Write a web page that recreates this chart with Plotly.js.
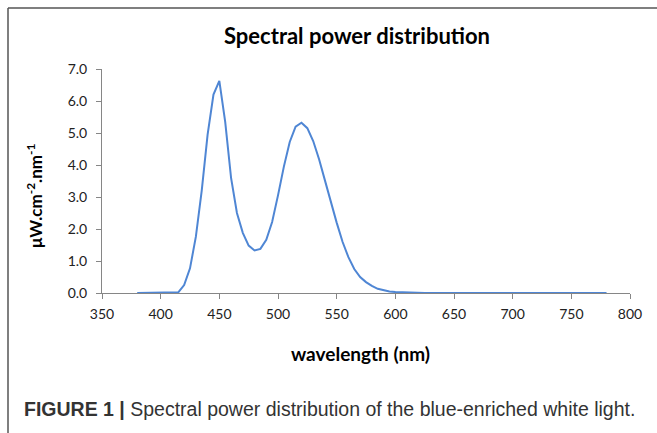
<!DOCTYPE html>
<html>
<head>
<meta charset="utf-8">
<script src="https://cdn.plot.ly/plotly-3.0.1.min.js"></script>
<style>html,body{margin:0;padding:0;background:#fff;}</style>
</head>
<body>
<div id="chart" style="width:657px;height:433px;"></div>
<script>
// Wavelengths (nm), 5 nm steps
const wavelength = [];
for (let w = 380; w <= 780; w += 5) wavelength.push(w);

// Spectral power (µW.cm-2.nm-1)
const powerHead = [
  0, 0, 0, 0, 0, 0, 0,          // 380-410
  0.02, 0.25, 0.77, 1.76, 3.2,  // 415-435
  4.95, 6.2, 6.63, 5.35, 3.6,   // 440-460
  2.5, 1.88, 1.48, 1.33, 1.38,  // 465-485
  1.66, 2.22, 3.05, 3.95, 4.72, // 490-510
  5.2, 5.32, 5.15, 4.75, 4.18,  // 515-535
  3.52, 2.85, 2.2, 1.6, 1.12,   // 540-560
  0.75, 0.5, 0.34, 0.22, 0.13,  // 565-585
  0.08, 0.05, 0.03, 0.02, 0.01, // 590-610
  0.01                          // 615
];
const powerTail = [
  0,0,0,0,0,0,0,0,0,0,          // 620-665
  0,0,0,0,0,0,0,0,0,0,          // 670-715
  0,0,0,0,0,0,0,0,0,0,          // 720-765
  0,0,0,0                       // 770-780 (and padding)
];
const power = powerHead.concat(powerTail).slice(0, wavelength.length);

const xTicks = [350, 400, 450, 500, 550, 600, 650, 700, 750, 800];
const yTicks = [0, 1, 2, 3, 4, 5, 6, 7];

const chartTitle = "Spectral power distribution";
const xTitle = "wavelength (nm)";
const yTitle = "μW.cm<sup>-2</sup>.nm<sup>-1</sup>";
const caption = "<b>FIGURE 1 |</b> Spectral power distribution of the blue-enriched white light.";

// plot area geometry in pixels
const W = 657, H = 433;
const L = 102, R = 630, T = 69, B = 293;
const px = x => (x - L) / (R - L);
const py = y => (B - y) / (B - T);

const tickFont = {family: "Lato, 'Open Sans', sans-serif", size: 14, color: "#222"};
const axisGray = "#868686";

const trace = {
  x: wavelength, y: power, type: "scatter", mode: "lines",
  line: {color: "#4F86D4", width: 2}, hoverinfo: "skip"
};

const layout = {
  width: W, height: H,
  margin: {l: L, r: W - R, t: T, b: H - B, pad: 0},
  paper_bgcolor: "#fff", plot_bgcolor: "#fff",
  showlegend: false,
  xaxis: {
    range: [350, 800], tickvals: xTicks, ticktext: xTicks.map(String),
    showgrid: false, zeroline: false, showline: true, linecolor: axisGray, linewidth: 1,
    ticks: "outside", ticklen: 5, tickcolor: axisGray, tickfont: tickFont,
    ticklabelstandoff: 3
  },
  yaxis: {
    range: [0, 7], tickvals: yTicks, ticktext: yTicks.map(v => v.toFixed(1)),
    showgrid: false, zeroline: false, showline: true, linecolor: axisGray, linewidth: 1,
    ticks: "outside", ticklen: 5, tickcolor: axisGray, tickfont: tickFont,
    ticklabelstandoff: 6
  },
  annotations: [
    {text: "<b>" + chartTitle + "</b>", xref: "paper", yref: "paper", x: px(357), y: py(36),
     xanchor: "center", yanchor: "middle", showarrow: false,
     font: {family: "Lato, 'Open Sans', sans-serif", size: 22, color: "#000"}},
    {text: "<b>" + xTitle + "</b>", xref: "paper", yref: "paper", x: px(360), y: py(353),
     xanchor: "center", yanchor: "middle", showarrow: false,
     font: {family: "Lato, 'Open Sans', sans-serif", size: 19, color: "#000"}},
    {text: "<b>" + yTitle + "</b>", xref: "paper", yref: "paper", x: px(34), y: py(196),
     xanchor: "center", yanchor: "middle", showarrow: false, textangle: -90,
     font: {family: "Lato, 'Open Sans', sans-serif", size: 17, color: "#000"}},
    {text: caption, xref: "paper", yref: "paper", x: px(22), y: py(409),
     xanchor: "left", yanchor: "middle", showarrow: false,
     font: {family: "'Liberation Sans', Arial, sans-serif", size: 19.5, color: "#333"}}
  ],
  shapes: [
    {type: "line", xref: "paper", yref: "paper", x0: px(8), x1: px(660), y0: py(8), y1: py(8),
     line: {color: "#555", width: 1.5}},
    {type: "line", xref: "paper", yref: "paper", x0: px(8), x1: px(8), y0: py(8), y1: py(436),
     line: {color: "#555", width: 1.5}}
  ]
};

Plotly.newPlot("chart", [trace], layout, {displayModeBar: false, staticPlot: true});
</script>
</body>
</html>
